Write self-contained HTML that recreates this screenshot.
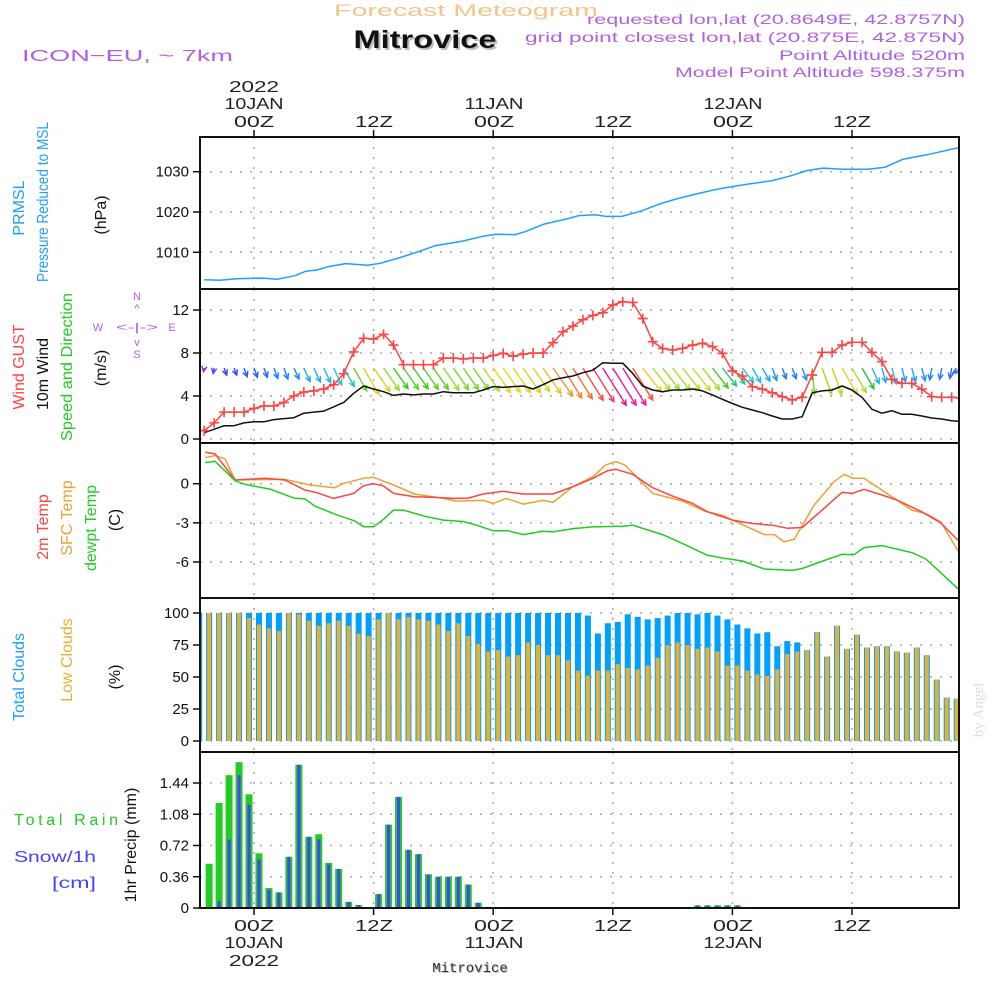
<!DOCTYPE html>
<html><head><meta charset="utf-8"><title>Meteogram Mitrovice</title>
<style>
html,body{margin:0;padding:0;background:#fff;}
svg{display:block;font-family:"Liberation Sans",sans-serif;}
</style></head>
<body>
<svg id="chart" xmlns="http://www.w3.org/2000/svg" width="1000" height="1000" viewBox="0 0 1000 1000">
<defs>
<clipPath id="cp"><rect x="200" y="137" width="759" height="771"/></clipPath>
</defs>
<rect x="0" y="0" width="1000" height="1000" fill="#fff"/>

<!-- header -->
<text x="466" y="16" text-anchor="middle" font-size="17" fill="#f5c48a" textLength="264" lengthAdjust="spacingAndGlyphs">Forecast Meteogram</text>
<text x="427" y="50" text-anchor="middle" font-size="25" font-weight="bold" fill="#bbb" textLength="143" lengthAdjust="spacingAndGlyphs">Mitrovice</text>
<text x="425" y="48" text-anchor="middle" font-size="25" font-weight="bold" fill="#111" textLength="143" lengthAdjust="spacingAndGlyphs">Mitrovice</text>
<g fill="#b060e0" font-size="14" text-anchor="end">
<text x="965" y="24" textLength="378" lengthAdjust="spacingAndGlyphs">requested lon,lat (20.8649E, 42.8757N)</text>
<text x="965" y="42" textLength="440" lengthAdjust="spacingAndGlyphs">grid point closest lon,lat (20.875E, 42.875N)</text>
<text x="965" y="60" textLength="186" lengthAdjust="spacingAndGlyphs">Point Altitude 520m</text>
<text x="965" y="77" textLength="290" lengthAdjust="spacingAndGlyphs">Model Point Altitude 598.375m</text>
</g>
<text x="22" y="61" font-size="16" fill="#b060e0" textLength="211" lengthAdjust="spacingAndGlyphs">ICON−EU, ~ 7km</text>

<!-- top time labels -->
<g font-size="16" fill="#222" text-anchor="middle">
<text x="254" y="92" textLength="50" lengthAdjust="spacingAndGlyphs">2022</text>
<text x="254" y="109" textLength="59" lengthAdjust="spacingAndGlyphs">10JAN</text>
<text x="254" y="127" textLength="40" lengthAdjust="spacingAndGlyphs">00Z</text>
<text x="374" y="127" textLength="38" lengthAdjust="spacingAndGlyphs">12Z</text>
<text x="494" y="109" textLength="59" lengthAdjust="spacingAndGlyphs">11JAN</text>
<text x="494" y="127" textLength="40" lengthAdjust="spacingAndGlyphs">00Z</text>
<text x="613" y="127" textLength="38" lengthAdjust="spacingAndGlyphs">12Z</text>
<text x="733" y="109" textLength="59" lengthAdjust="spacingAndGlyphs">12JAN</text>
<text x="733" y="127" textLength="40" lengthAdjust="spacingAndGlyphs">00Z</text>
<text x="852" y="127" textLength="38" lengthAdjust="spacingAndGlyphs">12Z</text>
</g>
<!-- bottom time labels -->
<g font-size="16" fill="#222" text-anchor="middle">
<text x="254" y="931" textLength="40" lengthAdjust="spacingAndGlyphs">00Z</text>
<text x="254" y="948" textLength="59" lengthAdjust="spacingAndGlyphs">10JAN</text>
<text x="254" y="966" textLength="50" lengthAdjust="spacingAndGlyphs">2022</text>
<text x="374" y="931" textLength="38" lengthAdjust="spacingAndGlyphs">12Z</text>
<text x="494" y="931" textLength="40" lengthAdjust="spacingAndGlyphs">00Z</text>
<text x="494" y="948" textLength="59" lengthAdjust="spacingAndGlyphs">11JAN</text>
<text x="613" y="931" textLength="38" lengthAdjust="spacingAndGlyphs">12Z</text>
<text x="733" y="931" textLength="40" lengthAdjust="spacingAndGlyphs">00Z</text>
<text x="733" y="948" textLength="59" lengthAdjust="spacingAndGlyphs">12JAN</text>
<text x="852" y="931" textLength="38" lengthAdjust="spacingAndGlyphs">12Z</text>
</g>
<text x="471" y="973" text-anchor="middle" font-size="14" fill="#bbb" font-family="Liberation Mono, monospace">Mitrovice</text>
<text x="470" y="972" text-anchor="middle" font-size="14" fill="#333" font-family="Liberation Mono, monospace">Mitrovice</text>
<text transform="translate(983,710) rotate(-90)" text-anchor="middle" font-size="15" fill="#ddd" font-family="Liberation Serif, serif">by Angel</text>

<!-- left panel titles -->
<g font-size="16" text-anchor="middle">
<text transform="translate(24,208) rotate(-90)" fill="#1ea0ff">PRMSL</text>
<text transform="translate(48,202) rotate(-90)" fill="#1ea0ff" textLength="160" lengthAdjust="spacingAndGlyphs">Pressure Reduced to MSL</text>
<text transform="translate(106,215) rotate(-90)" fill="#111">(hPa)</text>
<text transform="translate(24,367) rotate(-90)" fill="#ff4444">Wind GUST</text>
<text transform="translate(48,374) rotate(-90)" fill="#111">10m Wind</text>
<text transform="translate(72,367) rotate(-90)" fill="#22cc22" textLength="148" lengthAdjust="spacingAndGlyphs">Speed and Direction</text>
<text transform="translate(106,368) rotate(-90)" fill="#111">(m/s)</text>
<text transform="translate(48,527) rotate(-90)" fill="#ff4444">2m Temp</text>
<text transform="translate(72,518) rotate(-90)" fill="#f0a030">SFC Temp</text>
<text transform="translate(96,528) rotate(-90)" fill="#22cc22">dewpt Temp</text>
<text transform="translate(120,520) rotate(-90)" fill="#111">(C)</text>
<text transform="translate(24,677) rotate(-90)" fill="#1ea0ff">Total Clouds</text>
<text transform="translate(72,660) rotate(-90)" fill="#e8b030">Low Clouds</text>
<text transform="translate(120,677) rotate(-90)" fill="#111">(%)</text>
<text transform="translate(136,845) rotate(-90)" fill="#111">1hr Precip (mm)</text>
</g>
<g font-size="16">
<text x="14" y="825" fill="#22cc22" textLength="104" lengthAdjust="spacing">Total   Rain</text>
<text x="14" y="862" fill="#4444ff" textLength="82" lengthAdjust="spacingAndGlyphs">Snow/1h</text>
<text x="52" y="888" fill="#4444ff" textLength="44" lengthAdjust="spacingAndGlyphs">[cm]</text>
</g>
<!-- compass -->
<g fill="#b060e0" font-size="11" text-anchor="middle">
<text x="137" y="300">N</text>
<text x="137" y="312">^</text>
<text x="137" y="331" textLength="42" lengthAdjust="spacingAndGlyphs">&lt;-|-&gt;</text>
<text x="98" y="331">W</text>
<text x="172" y="331">E</text>
<text x="137" y="346">v</text>
<text x="137" y="358">S</text>
</g>

<g id="grid"></g>
<g id="marks" clip-path="url(#cp)"></g>
<g id="frames"></g>
<g id="yticks" font-size="15" fill="#111" text-anchor="end"></g>
</svg>

<script>
// ---------------- data ----------------
const timeTicks = [0, 12, 24, 36, 48, 60];

const pressureHours = [-5.0,-3.4,-1.8,0.9,2.3,4.1,5.2,6.3,7.4,9.2,11.4,12.7,14.8,16.5,18.1,20.8,23.0,24.3,26.2,27.2,29.1,31.6,32.6,34.2,35.3,36.9,38.8,40.7,42.3,44.4,46.4,48.2,49.8,52.0,53.9,55.5,57.1,59.0,61.6,63.3,65.1,67.5,70.8];
const pressureValues = [1003.2,1003.05,1003.45,1003.6,1003.3,1004.2,1005.3,1005.6,1006.4,1007.2,1006.8,1007.3,1008.8,1010.15,1011.6,1012.7,1014.0,1014.5,1014.4,1015.1,1017.0,1018.4,1019.1,1019.3,1018.9,1018.9,1020.2,1022.0,1023.2,1024.5,1025.6,1026.4,1027.0,1027.8,1029.0,1030.3,1030.9,1030.6,1030.6,1031.1,1033.1,1034.2,1036.0];
const pressureTicks = [1010, 1020, 1030];

const windHours = [-5,-4,-3,-2,-1,0,1,2,3,4,5,6,7,8,9,10,11,12,13,14,15,16,17,18,19,20,21,22,23,24,25,26,27,28,29,30,31,32,33,34,35,36,37,38,39,40,41,42,43,44,45,46,47,48,49,50,51,52,53,54,55,56,57,58,59,60,61,62,63,64,65,66,67,68,69,70,71];
const gustValues = [0.77,1.5,2.5,2.5,2.5,2.85,3.07,3.07,3.4,4.0,4.37,4.47,4.65,5.05,6.07,8.1,9.37,9.3,9.74,8.74,6.91,6.91,6.91,6.91,7.53,7.53,7.45,7.53,7.53,7.78,7.97,7.7,7.9,8.0,8.0,8.96,9.98,10.5,11.1,11.5,11.75,12.47,12.77,12.7,11.2,9.05,8.43,8.28,8.43,8.74,8.9,8.6,7.97,6.33,5.86,4.87,4.65,4.3,3.94,3.63,3.88,5.95,8.06,8.06,8.74,9.0,9.0,8.06,7.2,5.55,5.18,5.18,4.65,3.94,3.88,3.88,3.78];
const windValues = [0.59,0.9,1.24,1.24,1.5,1.6,1.6,1.8,1.9,1.98,2.4,2.5,2.6,3.0,3.4,4.25,4.93,4.65,4.4,4.06,4.19,4.1,4.19,4.19,4.4,4.3,4.3,4.3,4.56,4.87,4.8,4.87,4.93,4.65,5.05,5.5,5.7,5.86,6.17,6.4,7.1,7.05,7.05,6.1,4.93,4.56,4.4,4.56,4.56,4.65,4.47,4.1,3.69,3.3,2.95,2.7,2.45,2.14,1.86,1.86,2.07,4.3,4.47,4.56,4.93,4.56,3.88,2.76,2.4,2.63,2.3,2.3,2.14,1.95,1.86,1.7,1.64];
const windDirs = [10,10,340,340,340,340,340,340,340,335,335,335,335,335,330,330,330,325,325,325,325,325,325,325,325,325,325,325,325,325,325,325,325,325,325,325,328,328,328,328,328,328,328,328,322,322,322,322,322,322,322,322,322,322,322,330,330,340,340,340,340,355,340,340,330,330,330,335,345,345,345,345,345,10,10,10,60];
const windTicks = [0, 4, 8, 12];

const t2mHours = [-4.9,-3.9,-1.9,1.1,3.1,5.1,6.3,8.0,10.0,11.0,12.0,13.0,14.0,16.1,18.1,20.1,21.5,23.0,25.0,27.0,30.0,32.0,34.0,35.5,36.3,38.0,40.0,42.0,44.0,45.5,48.0,50.0,52.0,53.5,55.0,57.0,59.0,60.0,61.2,62.5,64.5,67.0,68.9,70.7];
const t2mValues = [2.42,2.28,0.28,0.41,0.28,-0.48,-0.69,-1.13,-0.74,-0.15,0,-0.18,-0.74,-1.0,-1.05,-1.13,-1.1,-0.79,-0.58,-0.79,-0.79,-0.23,0.41,1.0,1.1,0.72,-0.31,-0.95,-1.51,-2.15,-2.79,-3.05,-3.18,-3.41,-3.36,-2.02,-0.66,-0.74,-0.43,-0.74,-1.25,-2.15,-3.0,-4.38];
const tsfcHours = [-4.9,-3.9,-2.9,-1.9,3.1,5.6,8.1,9.0,11.0,12.0,14.0,16.1,19.0,20.3,23.0,24.0,25.3,27.0,29.0,30.0,32.0,34.0,35.3,36.3,37.2,40.0,43.0,45.2,47.0,48.0,51.2,52.2,53.2,54.2,56.2,58.2,59.2,60.1,61.2,62.5,66.0,67.4,68.9,70.7];
const tsfcValues = [2.0,2.15,1.9,0.28,0.34,-0.1,-0.31,0.03,0.41,0.49,-0.1,-0.79,-1.13,-1.33,-1.28,-1.51,-1.13,-1.56,-1.28,-1.43,-0.23,0.54,1.44,1.69,1.44,-0.74,-1.33,-2.1,-2.41,-2.79,-3.9,-3.9,-4.46,-4.25,-1.64,0.15,0.72,0.41,0.41,-0.23,-2.02,-2.3,-2.92,-5.23];
const dewHours = [-4.9,-3.9,-1.9,-0.9,1.6,4.1,5.1,6.1,8.1,10.1,11.0,12.0,13.0,14.0,15.0,17.1,19.0,21.0,22.0,24.0,25.5,27.0,29.0,30.0,32.0,34.0,37.0,38.0,41.0,43.0,45.5,47.0,49.0,51.2,54.0,55.0,56.5,59.0,60.2,61.2,63.0,66.0,67.4,68.9,70.7];
const dewValues = [1.62,1.72,0.23,-0.05,-0.41,-1.13,-1.15,-1.72,-2.33,-2.85,-3.3,-3.3,-2.72,-2.02,-2.02,-2.49,-2.79,-2.9,-3.1,-3.61,-3.61,-3.9,-3.64,-3.69,-3.44,-3.31,-3.26,-3.18,-3.9,-4.59,-5.49,-5.69,-5.92,-6.54,-6.64,-6.5,-6.08,-5.41,-5.44,-4.9,-4.74,-5.28,-5.77,-6.82,-8.1];
const tempTicks = [0, -3, -6];

const barHours = [-5.5,-4.5,-3.5,-2.5,-1.5,-0.5,0.5,1.5,2.5,3.5,4.5,5.5,6.5,7.5,8.5,9.5,10.5,11.5,12.5,13.5,14.5,15.5,16.5,17.5,18.5,19.5,20.5,21.5,22.5,23.5,24.5,25.5,26.5,27.5,28.5,29.5,30.5,31.5,32.5,33.5,34.5,35.5,36.5,37.5,38.5,39.5,40.5,41.5,42.5,43.5,44.5,45.5,46.5,47.5,48.5,49.5,50.5,51.5,52.5,53.5,54.5,55.5,56.5,57.5,58.5,59.5,60.5,61.5,62.5,63.5,64.5,65.5,66.5,67.5,68.5,69.5,70.5];
const totalClouds = [100,100,100,100,100,100,100,100,100,100,100,100,100,100,100,100,100,100,100,100,100,100,100,100,100,100,100,100,100,100,100,100,100,100,100,100,100,100,100,98,84,92,93,99,97,95,96,98,100,100,99,100,98,95,91,88,84,85,74,78,77,71,85,66,90,72,83,73,74,74,70,69,73,67,48,34,33];
const lowClouds = [91,100,100,100,100,96,91,88,86,100,99,94,90,92,94,90,84,82,95,100,95,97,95,94,91,86,92,82,76,70,71,66,67,77,75,67,67,63,55,51,55,55,60,57,56,59,65,75,77,75,72,73,70,59,59,55,52,51,56,68,70,71,85,66,90,72,83,73,74,74,70,69,73,67,48,34,33];
const cloudTicks = [0, 25, 50, 75, 100];

const rainValues = [0,0.51,1.21,1.53,1.68,1.31,0.63,0.23,0.18,0.59,1.65,0.82,0.85,0.52,0.45,0.07,0.035,0,0.16,0.96,1.28,0.67,0.62,0.39,0.36,0.36,0.36,0.27,0.06,0,0,0,0,0,0,0,0,0,0,0,0,0,0,0,0,0,0,0,0,0,0.03,0.03,0.03,0.03,0.03,0,0,0,0,0,0,0,0,0,0,0,0,0,0,0,0,0,0,0,0,0,0];
const snowValues = [0,0,0.08,0.79,1.53,1.19,0.56,0.21,0.18,0.59,1.65,0.82,0.79,0.50,0.45,0.07,0.035,0,0.16,0.96,1.28,0.67,0.62,0.38,0.36,0.36,0.36,0.27,0.06,0,0,0,0,0,0,0,0,0,0,0,0,0,0,0,0,0,0,0,0,0,0.03,0.03,0.03,0.03,0.03,0,0,0,0,0,0,0,0,0,0,0,0,0,0,0,0,0,0,0,0,0,0];
const precipTicks = [0, 0.36, 0.72, 1.08, 1.44];
const precipTickLabels = ["0", "0.36", "0.72", "1.08", "1.44"];

// ---------------- scales ----------------
const XL = 200, XR = 959;
function xScale(h){ return 254 + h * 9.967; }
function lin(v0, y0, v1, y1){ return v => y0 + (v - v0) * (y1 - y0) / (v1 - v0); }
const yP = lin(1010, 252.3, 1030, 171.7);
const yW = lin(0, 439, 12, 310);
const yT = lin(0, 483.7, -6, 562);
const yC = lin(0, 741, 100, 613);
const yR = lin(0, 908, 1.44, 783);
const panels = [
  {name:'pressure', top:137, bot:289},
  {name:'wind', top:289, bot:443},
  {name:'temperature', top:443, bot:598},
  {name:'clouds', top:598, bot:752},
  {name:'precip', top:752, bot:908}
];

const NS = 'http://www.w3.org/2000/svg';
function mk(tag, attrs, parent){
  const e = document.createElementNS(NS, tag);
  for (const k in attrs) e.setAttribute(k, attrs[k]);
  parent.appendChild(e);
  return e;
}
const grid = document.getElementById('grid');
const marks = document.getElementById('marks');
const frames = document.getElementById('frames');
const yticks = document.getElementById('yticks');
const GRID = {stroke:'#aaa', 'stroke-width':1.5, 'stroke-dasharray':'2 8', fill:'none'};

panels.forEach(p => {
  timeTicks.forEach(h => {
    const l = mk('line', Object.assign({x1:xScale(h), x2:xScale(h), y1:p.top, y2:p.bot}, GRID), grid);
    
    
  });
});
timeTicks.forEach(h => {
  const t1 = mk('line', {x1:xScale(h), x2:xScale(h), y1:130, y2:137, stroke:'#111', 'stroke-width':1.5}, frames);
  
  
  const t2 = mk('line', {x1:xScale(h), x2:xScale(h), y1:908, y2:915, stroke:'#111', 'stroke-width':1.5}, frames);
  
  
});

function hgrid(vals, ys, labels, panelName){
  vals.forEach((v, i) => {
    const y = ys(v);
    const g = mk('line', Object.assign({x1:XL, x2:XR, y1:y, y2:y}, GRID), grid);
    
    
    const t = mk('line', {x1:193, x2:200, y1:y, y2:y, stroke:'#111', 'stroke-width':1.5}, frames);
    
    
    const tx = mk('text', {x:189, y:y + 5}, yticks);
    
    
    tx.textContent = labels ? labels[i] : String(v);
  });
}
hgrid(pressureTicks, yP, null, 'pressure');
hgrid(windTicks, yW, null, 'wind');
hgrid(tempTicks, yT, null, 'temperature');
hgrid(cloudTicks, yC, null, 'clouds');
hgrid(precipTicks, yR, precipTickLabels, 'precip');

function polyline(hours, vals, ys, color, name){
  const pts = hours.map((h, i) => xScale(h).toFixed(1) + ',' + ys(vals[i]).toFixed(1)).join(' ');
  const pl = mk('polyline', {points:pts, fill:'none', stroke:color, 'stroke-width':1.5, 'stroke-linejoin':'round'}, marks);
  
  
}

polyline(pressureHours, pressureValues, yP, '#1ea0ff', 'pressure-line');

function windColor(s){
  const stops = [[0.5,[150,50,210]],[1.3,[50,70,255]],[2.0,[30,140,255]],[2.6,[30,180,240]],[3.0,[30,200,210]],[3.5,[30,200,160]],[4.0,[30,200,30]],[4.4,[150,220,40]],[4.8,[225,220,40]],[5.4,[240,160,50]],[6.0,[255,90,50]],[6.6,[255,40,130]],[7.2,[235,20,150]]];
  if (s <= stops[0][0]) return 'rgb(' + stops[0][1].join(',') + ')';
  for (let i = 1; i < stops.length; i++){
    if (s <= stops[i][0]){
      const a = stops[i-1], b = stops[i], f = (s - a[0]) / (b[0] - a[0]);
      return 'rgb(' + a[1].map((c, k) => Math.round(c + (b[1][k] - c) * f)).join(',') + ')';
    }
  }
  return 'rgb(' + stops[stops.length-1][1].join(',') + ')';
}
windHours.forEach((h, j) => {
  const s = windValues[j];
  const L = 6.2 * s;
  const toward = (windDirs[j] + 180) * Math.PI / 180;
  const x0 = xScale(h), y0 = 368;
  const x1 = x0 + L * Math.sin(toward), y1 = y0 - L * Math.cos(toward);
  const ang = Math.atan2(y1 - y0, x1 - x0);
  const hl = 6;
  const col = windColor(s);
  const d = 'M' + x0.toFixed(1) + ',' + y0 + 'L' + x1.toFixed(1) + ',' + y1.toFixed(1) +
    'M' + (x1 - hl * Math.cos(ang - 0.45)).toFixed(1) + ',' + (y1 - hl * Math.sin(ang - 0.45)).toFixed(1) + 'L' + x1.toFixed(1) + ',' + y1.toFixed(1) +
    'L' + (x1 - hl * Math.cos(ang + 0.45)).toFixed(1) + ',' + (y1 - hl * Math.sin(ang + 0.45)).toFixed(1);
  const a = mk('path', {d:d, stroke:col, 'stroke-width':1.4, fill:'none'}, marks);
  
  
});
polyline(windHours, windValues, yW, '#111', 'wind-10m-line');
polyline(windHours, gustValues, yW, '#ff4444', 'wind-gust-line');
windHours.forEach((h, j) => {
  const x = xScale(h), y = yW(gustValues[j]);
  const c = mk('path', {d:'M' + (x-5) + ',' + y + 'H' + (x+5) + 'M' + x + ',' + (y-5) + 'V' + (y+5), stroke:'#ff4444', 'stroke-width':1.6, fill:'none'}, marks);
  
  
});

polyline(tsfcHours, tsfcValues, yT, '#f0a030', 'sfc-temp-line');
polyline(t2mHours, t2mValues, yT, '#ff4444', 't2m-line');
polyline(dewHours, dewValues, yT, '#22cc22', 'dewpoint-line');

barHours.forEach((h, i) => {
  const x = xScale(h);
  const b = mk('rect', {x:x - 3, y:yC(totalClouds[i]), width:6, height:yC(0) - yC(totalClouds[i]), fill:'#00a0ff'}, marks);
  
  
  const o = mk('rect', {x:x - 2, y:yC(lowClouds[i]), width:4, height:yC(0) - yC(lowClouds[i]), fill:'#e8b030'}, marks);
  
  
});

barHours.forEach((h, i) => {
  const x = xScale(h);
  if (rainValues[i] > 0){
    const r = mk('rect', {x:x - 3.5, y:yR(rainValues[i]), width:7, height:yR(0) - yR(rainValues[i]), fill:'#22cc22'}, marks);
    
    
  }
  if (snowValues[i] > 0){
    const s = mk('rect', {x:x - 1.5, y:yR(snowValues[i]), width:3, height:yR(0) - yR(snowValues[i]), fill:'#4444ff'}, marks);
    
    
  }
});

panels.forEach(p => {
  const f = mk('rect', {x:XL, y:p.top, width:XR - XL, height:p.bot - p.top, fill:'none', stroke:'#111', 'stroke-width':2}, frames);
  
  
});
</script>
</body></html>
